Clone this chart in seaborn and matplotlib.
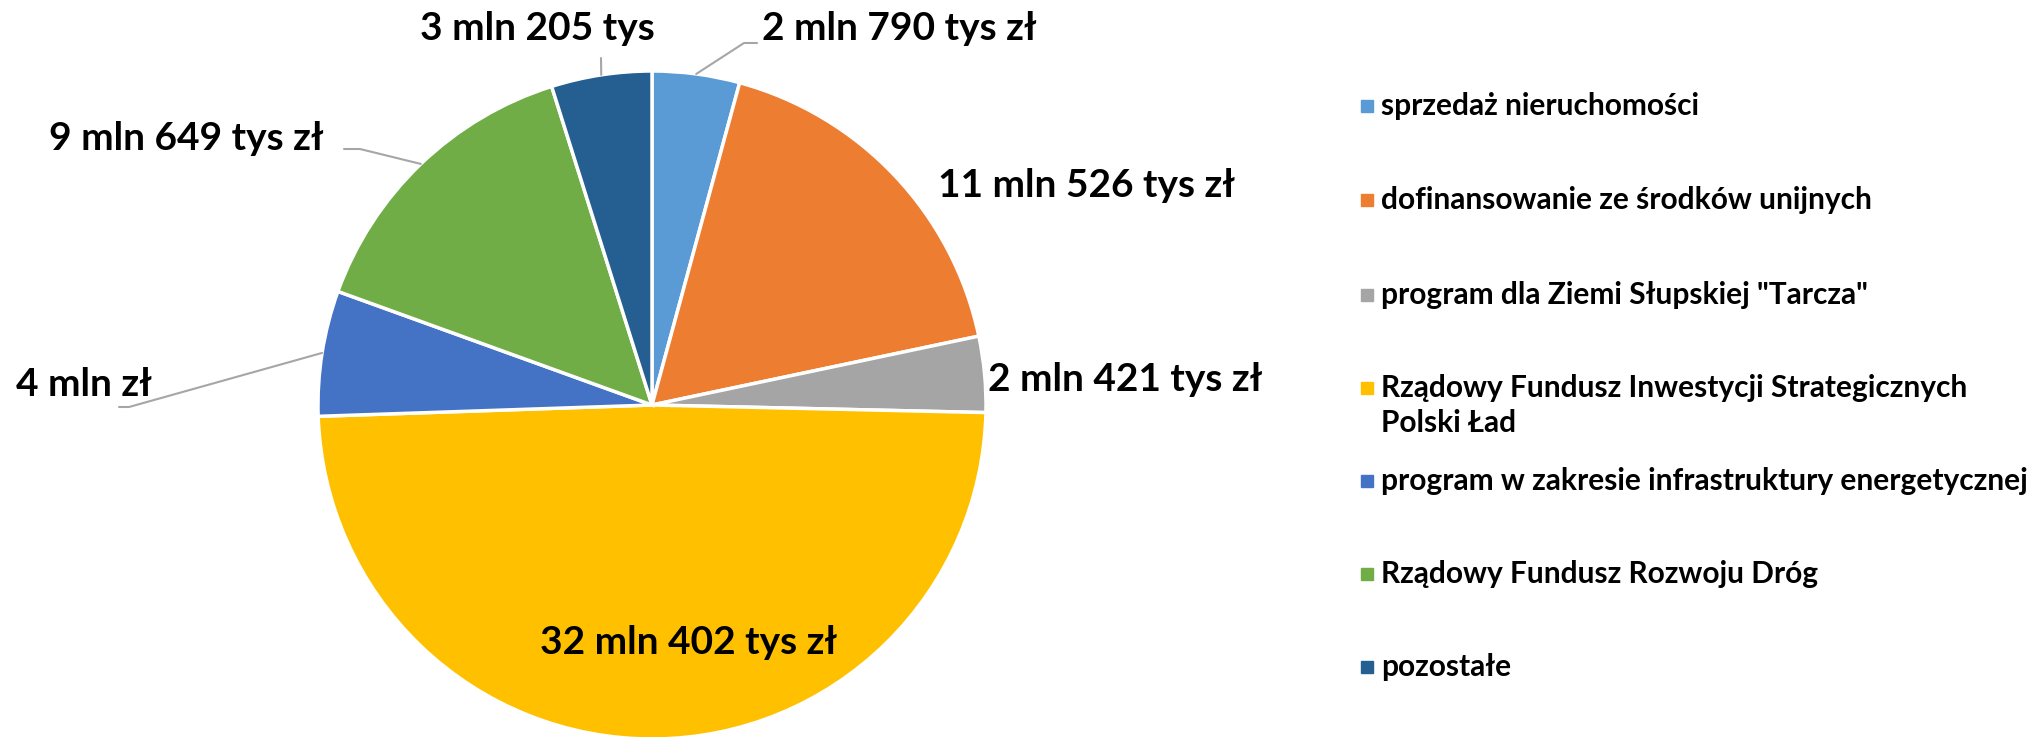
# Pie chart: sources of financing (values in thousands of zł)

import matplotlib.pyplot as plt
import seaborn as sns
import numpy as np
from matplotlib.patches import Rectangle

sns.set_style("white")
plt.rcParams['font.family'] = ['Lato', 'DejaVu Sans']

# Data
categories = [
    'sprzedaż nieruchomości',
    'dofinansowanie ze środków unijnych',
    'program dla Ziemi Słupskiej "Tarcza"',
    'Rządowy Fundusz Inwestycji Strategicznych\nPolski Ład',
    'program w zakresie infrastruktury energetycznej',
    'Rządowy Fundusz Rozwoju Dróg',
    'pozostałe',
]
values = [2790, 11526, 2421, 32402, 4000, 9649, 3205]
value_labels = [
    '2 mln 790 tys zł',
    '11 mln 526 tys zł',
    '2 mln 421 tys zł',
    '32 mln 402 tys zł',
    '4 mln zł',
    '9 mln 649 tys zł',
    '3 mln 205 tys',
]
colors = sns.color_palette(['#5B9BD5', '#ED7D31', '#A5A5A5', '#FFC000',
                            '#4472C4', '#70AD47', '#255E91'])

# Figure in pixel units (y measured from the bottom)
W, H = 2028, 737
fig = plt.figure(figsize=(W / 100, H / 100), dpi=100)
ax = fig.add_axes([0, 0, 1, 1])

cx, cy, r = 652, H - 405, 334
wedges, _ = ax.pie(values, colors=colors, startangle=90, counterclock=False,
                   center=(cx, cy), radius=r,
                   wedgeprops=dict(edgecolor='white', linewidth=2.5))
ax.set_xlim(0, W)
ax.set_ylim(0, H)
ax.set_aspect('equal')
ax.axis('off')

# Label positions (pixels from top) and optional leader-line bends
label_pos = [(899, 28), (1086, 185), (1125, 379), (689, 643),
             (84, 384), (186, 138), (537, 28)]
leaders = {
    0: [(744, 43), (757, 43)],
    4: [(129, 407), (119, 407)],
    5: [(360, 149), (344, 149)],
    6: [(601, 58)],
}

for i, w in enumerate(wedges):
    mid = np.deg2rad((w.theta1 + w.theta2) / 2)
    if i in leaders:
        ex, ey = cx + r * np.cos(mid), cy + r * np.sin(mid)
        pts = [(ex, ey)] + [(x, H - y) for x, y in leaders[i]]
        xs, ys = zip(*pts)
        ax.plot(xs, ys, color='#A6A6A6', lw=1.5, zorder=1)
    lx, ly = label_pos[i]
    ax.text(lx, H - ly, value_labels[i], ha='center', va='center',
            fontsize=28, fontweight='bold', color='black')

# Legend drawn as squares + text
leg_y = [106, 200, 295, 388, 481, 574, 667]
for i, cat in enumerate(categories):
    y = H - leg_y[i]
    ax.add_patch(Rectangle((1361, y - 6), 12, 12, color=colors[i]))
    for k, line in enumerate(cat.split('\n')):
        ax.text(1381, y - 35 * k, line, ha='left', va='center',
                fontsize=21.5, fontweight='bold', color='black')

fig.savefig('out.png', dpi=100, facecolor='white')
